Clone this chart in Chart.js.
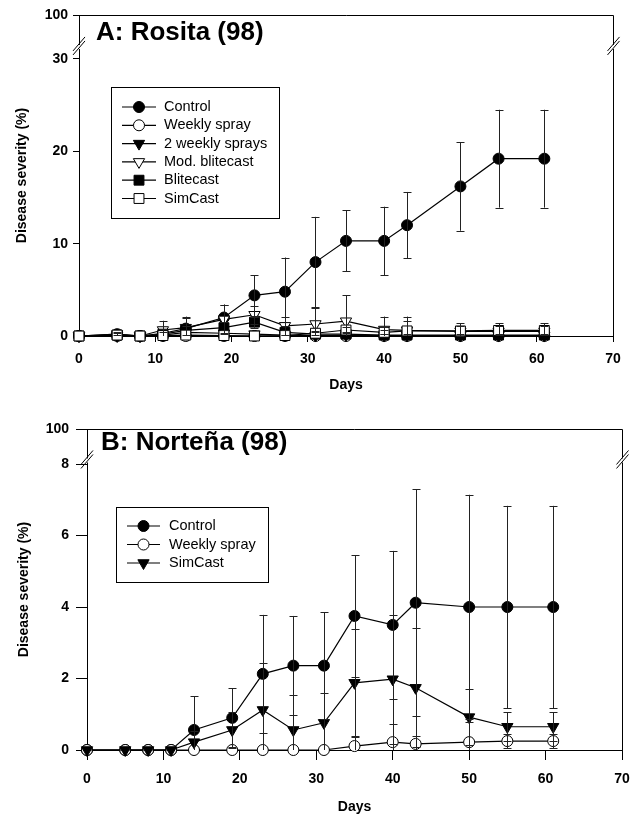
<!DOCTYPE html>
<html><head><meta charset="utf-8">
<script src="https://cdn.jsdelivr.net/npm/chart.js@4/dist/chart.umd.min.js"></script>
<style>
html,body{margin:0;padding:0;background:#fff;width:636px;height:816px;overflow:hidden;}
canvas{position:absolute;left:0;}
#cA{top:0;} #cB{top:400px;}
</style></head><body>
<canvas id="cA" width="636" height="400"></canvas>
<canvas id="cB" width="636" height="416"></canvas>
<script>
// ---------- DATA ----------
const days = [0, 5, 8, 11, 14, 19, 23, 27, 31, 35, 40, 43, 50, 55, 61];
const xTicks = [0, 10, 20, 30, 40, 50, 60, 70];

// Panel A: Rosita (98)
const titleA = 'A: Rosita (98)';
const yTicksA = [0, 10, 20, 30];
const yTopLabelA = '100';
const A_control      = [0, 0.2, 0, 0.3, 0.8, 2.0, 4.4, 4.8, 8.0, 10.3, 10.3, 12.0, 16.2, 19.2, 19.2];
const A_control_err  = [0, 0.2, 0, 0.5, 1.2, 1.4, 2.2, 3.7, 4.9, 3.3, 3.7, 3.6, 4.8, 5.3, 5.3];
const A_weekly       = [0, 0, 0, 0, 0, 0, 0, 0, 0, 0, 0, 0, 0, 0, 0];
const A_weekly_err   = [0, 0, 0, 0, 0, 0, 0, 0, 0, 0, 0, 0, 0, 0, 0];
const A_2weekly      = [0, 0, 0, 0.1, 0.4, 0.3, 0.2, 0.1, 0.05, 0.1, 0.05, 0.05, 0.05, 0.05, 0.05];
const A_2weekly_err  = [0, 0, 0, 0, 0, 0, 0, 0, 0, 0, 0, 0, 0, 0, 0];
const A_modblite     = [0, 0.2, 0, 0.65, 0.9, 1.8, 2.3, 1.1, 1.3, 1.6, 0.7, 0.6, 0.5, 0.5, 0.5];
const A_modblite_err = [0, 0.1, 0, 1.0, 1.2, 1.6, 1.0, 1.0, 1.7, 2.8, 1.4, 1.5, 0.9, 0.9, 0.9];
const A_blite        = [0, 0.1, 0, 0.2, 0.6, 0.9, 1.5, 0.4, 0.2, 0.2, 0.1, 0.1, 0.1, 0.1, 0.1];
const A_blite_err    = [0, 0, 0, 0.2, 0.5, 0.6, 0.6, 0.3, 0.2, 0.2, 0.1, 0.1, 0.1, 0.1, 0.1];
const A_simcast      = [0, 0.1, 0, 0.05, 0.1, 0.05, 0, 0.05, 0.3, 0.65, 0.4, 0.55, 0.55, 0.6, 0.6];
const A_simcast_err  = [0, 0, 0, 0, 0, 0, 0, 0, 0.2, 0.3, 0.2, 1.1, 0.5, 0.5, 0.5];

// Panel B: Norteña (98)
const titleB = 'B: Norteña (98)';
const yTicksB = [0, 2, 4, 6, 8];
const yTopLabelB = '100';
const B_control      = [0, 0, 0, 0, 0.56, 0.9, 2.13, 2.36, 2.36, 3.75, 3.5, 4.12, 4.0, 4.0, 4.0];
const B_control_err  = [0, 0, 0, 0, 0.95, 0.83, 1.65, 1.39, 1.5, 1.7, 2.07, 3.18, 3.14, 2.83, 2.83];
const B_weekly       = [0, 0, 0, 0, 0, 0, 0, 0, 0, 0.11, 0.22, 0.17, 0.22, 0.25, 0.25];
const B_weekly_err   = [0, 0, 0, 0, 0, 0, 0, 0, 0, 0.25, 0.5, 0.22, 0.55, 0.2, 0.2];
const B_simcast      = [0, 0, 0, 0, 0.22, 0.56, 1.12, 0.56, 0.76, 1.88, 1.98, 1.74, 0.92, 0.65, 0.65];
const B_simcast_err  = [0, 0, 0, 0, 0.3, 0.5, 1.3, 0.98, 0.84, 1.5, 1.8, 1.66, 0.78, 0.4, 0.4];

// ---------- STYLES ----------
const FONT = "'Liberation Sans', Arial, Helvetica, sans-serif";
Chart.defaults.font.family = FONT;
Chart.defaults.color = '#000';

const ST = {
  fcircle: {shape: 'circle', r: 5.5, open: false, rot: 0},
  ocircle: {shape: 'circle', r: 5.5, open: true, rot: 0},
  ftriDown: {shape: 'triangle', r: 6.5, open: false, rot: 180},
  otriDown: {shape: 'triangle', r: 6.5, open: true, rot: 180},
  fsquare: {shape: 'rect', r: 7, open: false, rot: 0},
  osquare: {shape: 'rect', r: 7, open: true, rot: 0}
};

function ds(label, values, errs, st, order) {
  return {
    label, err: errs, st,
    data: days.map((d, i) => ({x: d, y: values[i]})),
    borderColor: '#000', borderWidth: 1.2,
    backgroundColor: st.open ? '#fff' : '#000',
    pointStyle: st.shape, pointRotation: st.rot, pointRadius: st.r, pointHoverRadius: st.r,
    pointBorderColor: '#000', pointBackgroundColor: st.open ? '#fff' : '#000', pointBorderWidth: 1,
    tension: 0, clip: false, order
  };
}

// ---------- PLUGINS ----------
const framePlugin = {
  id: 'frame',
  beforeDatasetsDraw(chart, args, o) {
    const {ctx, chartArea: a} = chart;
    ctx.save();
    ctx.strokeStyle = '#000'; ctx.lineWidth = 1;
    ctx.beginPath();
    ctx.moveTo(a.left, a.top + 0.5); ctx.lineTo(a.right + 0.5, a.top + 0.5);
    ctx.lineTo(a.right + 0.5, a.bottom);
    ctx.stroke();
    ctx.restore();
  },
  afterDraw(chart, args, o) {
    const {ctx, chartArea: a} = chart;
    const yb = chart.scales.y.getPixelForValue(o.brk);
    ctx.save();
    for (const x of [a.left, a.right + 0.5]) {
      ctx.fillStyle = '#fff';
      ctx.fillRect(x - 2, yb - 2, 4, 4);
      ctx.strokeStyle = '#000'; ctx.lineWidth = 1;
      ctx.beginPath();
      for (const off of [-2, 2]) {
        ctx.moveTo(x - 6, yb + 6 + off); ctx.lineTo(x + 6, yb - 8 + off);
      }
      ctx.stroke();
    }
    ctx.restore();
  }
};

const errPlugin = {
  id: 'errbars',
  afterDatasetsDraw(chart) {
    const {ctx} = chart;
    const xs = chart.scales.x, ys = chart.scales.y;
    ctx.save();
    ctx.strokeStyle = '#222'; ctx.lineWidth = 1;
    chart.data.datasets.forEach(d => {
      d.data.forEach((p, i) => {
        const e = d.err[i];
        if (!e) return;
        const x = Math.round(xs.getPixelForValue(p.x)) + 0.5;
        const hiV = p.y + e, loV = Math.max(0, p.y - e);
        const hi = ys.getPixelForValue(hiV), lo = ys.getPixelForValue(loV);
        ctx.beginPath();
        ctx.moveTo(x, hi); ctx.lineTo(x, lo);
        ctx.moveTo(x - 4, Math.round(hi) + 0.5); ctx.lineTo(x + 4, Math.round(hi) + 0.5);
        if (p.y - e > 0) { ctx.moveTo(x - 4, Math.round(lo) + 0.5); ctx.lineTo(x + 4, Math.round(lo) + 0.5); }
        ctx.stroke();
      });
    });
    ctx.restore();
  }
};

const legendPlugin = {
  id: 'boxlegend',
  afterDraw(chart, args, o) {
    const {ctx} = chart;
    ctx.save();
    ctx.strokeStyle = '#000'; ctx.lineWidth = 1;
    ctx.strokeRect(o.x + 0.5, o.y + 0.5, o.w, o.h);
    ctx.font = o.fontSize + 'px ' + FONT;
    ctx.textBaseline = 'middle'; ctx.fillStyle = '#000';
    chart.data.datasets.forEach((d, i) => {
      const y = o.y0 + i * o.step;
      ctx.beginPath();
      ctx.moveTo(o.lx0, y); ctx.lineTo(o.lx1, y);
      ctx.lineWidth = 1.2; ctx.stroke();
      ctx.fillStyle = d.st.open ? '#fff' : '#000';
      ctx.lineWidth = 1;
      Chart.helpers.drawPoint(ctx, {pointStyle: d.st.shape, rotation: d.st.rot, radius: d.st.r, borderWidth: 1}, (o.lx0 + o.lx1) / 2, y);
      ctx.fillStyle = '#000';
      ctx.fillText(d.label, o.tx, y);
    });
    ctx.restore();
  }
};

const titlePlugin = {
  id: 'paneltitle',
  afterDraw(chart, args, o) {
    const {ctx} = chart;
    ctx.save();
    ctx.font = 'bold 26px ' + FONT;
    ctx.fillStyle = '#000';
    ctx.textBaseline = 'middle';
    ctx.fillText(o.text, o.x, o.y);
    ctx.restore();
  }
};

function makeChart(id, cfg) {
  const tickFont = {size: 14, weight: 'bold'};
  return new Chart(document.getElementById(id), {
    type: 'line',
    data: {datasets: cfg.datasets},
    options: {
      responsive: false, animation: false, devicePixelRatio: 1, events: [],
      layout: {padding: {top: cfg.top, right: cfg.right, left: 0, bottom: 0}},
      plugins: {
        legend: {display: false}, tooltip: {enabled: false},
        frame: {brk: cfg.brk},
        boxlegend: cfg.legend,
        paneltitle: cfg.title
      },
      scales: {
        x: {
          type: 'linear', min: 0, max: 70,
          afterBuildTicks(s) { s.ticks = xTicks.map(v => ({value: v})); },
          ticks: {font: tickFont, color: '#000', padding: cfg.xPad, maxRotation: 0, autoSkip: false},
          grid: {display: true, drawOnChartArea: false, drawTicks: true, tickLength: cfg.xTick, color: '#000', lineWidth: 1},
          border: {display: true, color: '#000', width: 1},
          title: {display: true, text: 'Days', color: '#000', font: tickFont, padding: {top: 0, bottom: cfg.xTitlePad}},
          afterFit(s) { s.height = cfg.xH; s.paddingLeft = 0; s.paddingRight = 0; }
        },
        y: {
          type: 'linear', min: 0, max: cfg.yMax,
          afterBuildTicks(s) { s.ticks = cfg.yTicks.concat([cfg.yMax]).map(v => ({value: v})); },
          ticks: {font: tickFont, color: '#000', padding: cfg.yPad, autoSkip: false,
            callback: v => (v === cfg.yMax ? cfg.yTop : String(v))},
          grid: {display: true, drawOnChartArea: false, drawTicks: true, tickLength: cfg.yTick, color: '#000', lineWidth: 1},
          border: {display: true, color: '#000', width: 1},
          title: {display: true, text: 'Disease severity (%)', color: '#000', font: tickFont, padding: {top: cfg.yTitlePad, bottom: 0}},
          afterFit(s) { s.width = cfg.yW; s.paddingTop = 0; s.paddingBottom = 0; }
        }
      }
    },
    plugins: [framePlugin, errPlugin, legendPlugin, titlePlugin]
  });
}

makeChart('cA', {
  datasets: [
    ds('Control', A_control, A_control_err, ST.fcircle, 6),
    ds('Weekly spray', A_weekly, A_weekly_err, ST.ocircle, 5),
    ds('2 weekly sprays', A_2weekly, A_2weekly_err, ST.ftriDown, 4),
    ds('Mod. blitecast', A_modblite, A_modblite_err, ST.otriDown, 3),
    ds('Blitecast', A_blite, A_blite_err, ST.fsquare, 2),
    ds('SimCast', A_simcast, A_simcast_err, ST.osquare, 1)
  ],
  top: 15, right: 23, yW: 79, xH: 64, yMax: 34.76, yTicks: yTicksA, yTop: yTopLabelA,
  xPad: 9, xTick: 6, yPad: 5, yTick: 6, xTitlePad: 6, yTitlePad: 14, brk: 31.3,
  legend: {x: 111, y: 87, w: 168, h: 131, y0: 107, step: 18.3, lx0: 122, lx1: 156, tx: 164, fontSize: 14.5},
  title: {text: titleA, x: 96, y: 33}
});

makeChart('cB', {
  datasets: [
    ds('Control', B_control, B_control_err, ST.fcircle, 3),
    ds('Weekly spray', B_weekly, B_weekly_err, ST.ocircle, 2),
    ds('SimCast', B_simcast, B_simcast_err, ST.ftriDown, 1)
  ],
  top: 29, right: 14, yW: 87, xH: 66, yMax: 8.98, yTicks: yTicksB, yTop: yTopLabelB,
  xPad: 11, xTick: 10, yPad: 7, yTick: 11, xTitlePad: 0, yTitlePad: 16, brk: 8.1,
  legend: {x: 116, y: 107, w: 152, h: 75, y0: 126, step: 18.5, lx0: 127, lx1: 160, tx: 169, fontSize: 14.5},
  title: {text: titleB, x: 101, y: 43}
});
</script>
</body></html>
